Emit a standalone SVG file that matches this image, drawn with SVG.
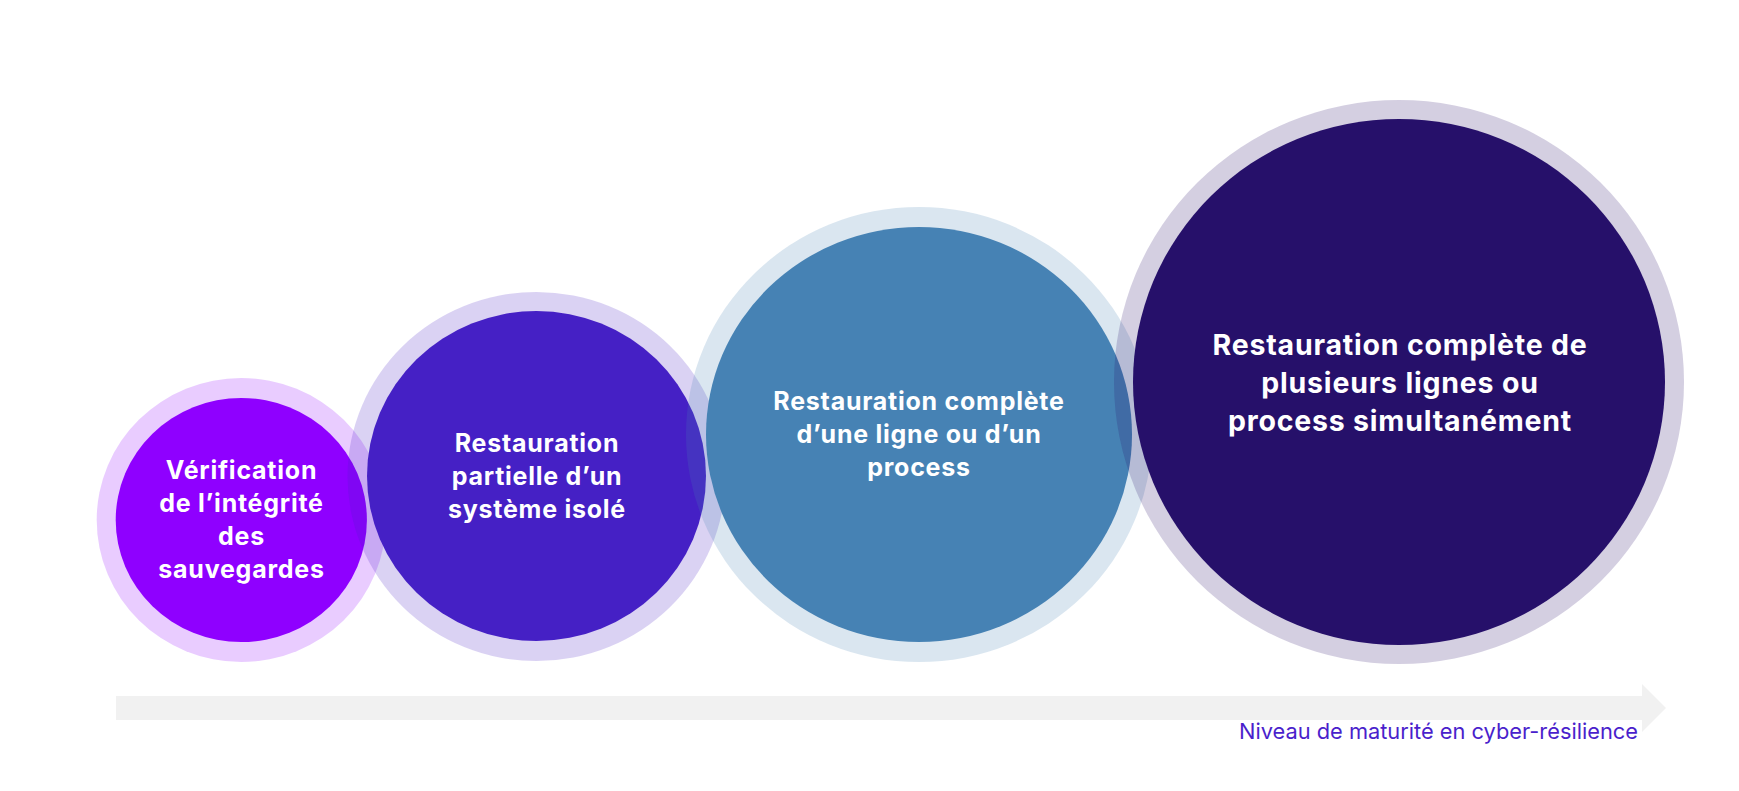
<svg xmlns="http://www.w3.org/2000/svg" width="1739" height="791" viewBox="0 0 1739 791">
<style>
.lbl{font-family:Inter,"Liberation Sans",sans-serif;font-weight:700;fill:#ffffff;text-anchor:middle;font-size:25px;letter-spacing:0.75px}
.lbl4{font-size:28.5px;letter-spacing:0.8px}
.axis{font-family:Inter,"Liberation Sans",sans-serif;font-size:21.8px;fill:#4A1FCC;text-anchor:end}
.ring{opacity:0.2}
</style>
<rect width="1739" height="791" fill="#ffffff"/>
<g id="node1">
<ellipse class="ring" cx="241.3" cy="520" rx="144.6" ry="142" fill="#8F00FF"/>
<ellipse cx="241.3" cy="520" rx="125.6" ry="122" fill="#8F00FF"/>
<text class="lbl"><tspan x="241.5" y="479">Vérification</tspan><tspan x="241.5" y="512">de l’intégrité</tspan><tspan x="241.5" y="545">des</tspan><tspan x="241.5" y="578">sauvegardes</tspan></text>
</g>
<g id="node2">
<ellipse class="ring" cx="536.5" cy="476.5" rx="189" ry="184.5" fill="#4520C5"/>
<ellipse cx="536.5" cy="476" rx="169.5" ry="165" fill="#4520C5"/>
<text class="lbl"><tspan x="537" y="452">Restauration</tspan><tspan x="537" y="485">partielle d’un</tspan><tspan x="537" y="518">système isolé</tspan></text>
</g>
<g id="node3">
<ellipse class="ring" cx="919" cy="434.5" rx="233" ry="227.5" fill="#4682B4"/>
<ellipse cx="919" cy="434.5" rx="213" ry="207.5" fill="#4682B4"/>
<text class="lbl"><tspan x="919" y="410">Restauration complète</tspan><tspan x="919" y="443">d’une ligne ou d’un</tspan><tspan x="919" y="476">process</tspan></text>
</g>
<g id="node4">
<ellipse class="ring" cx="1399" cy="382" rx="285" ry="282" fill="#26106A"/>
<ellipse cx="1399" cy="382" rx="266" ry="263" fill="#26106A"/>
<text class="lbl lbl4"><tspan x="1400" y="355">Restauration complète de</tspan><tspan x="1400" y="393">plusieurs lignes ou</tspan><tspan x="1400" y="431">process simultanément</tspan></text>
</g>
<g id="connectors">
<polygon points="116,696 1642,696 1642,684 1666,708 1642,732 1642,720 116,720" fill="#F1F1F1"/>
<text class="axis" x="1638" y="739">Niveau de maturité en cyber-résilience</text>
</g>
</svg>
